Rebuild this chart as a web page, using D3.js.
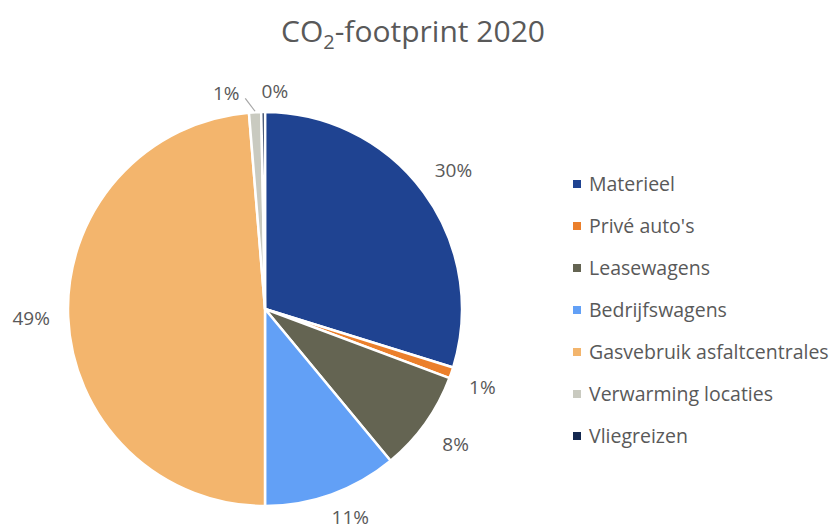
<!DOCTYPE html>
<html><head><meta charset="utf-8">
<script src="https://cdn.jsdelivr.net/npm/d3@7"></script>
<style>body{margin:0;background:#fff;} svg{display:block;}</style>
</head><body>
<svg id="chart" width="830" height="530"></svg>
<script>
const categories = ["Materieel","Privé auto's","Leasewagens","Bedrijfswagens","Gasvebruik asfaltcentrales","Verwarming locaties","Vliegreizen"];
const values = [29.8, 0.9, 8.3, 11.0, 48.7, 1.0, 0.3];
const colors = ["#1f4391","#eb7f2b","#646452","#62a0f6","#f3b56d","#c9cac0","#14284f"];
const titleMain = "CO", titleSub = "2", titleRest = "-footprint 2020";

const svg = d3.select("#chart");
const font = "'Open Sans', sans-serif";
const textColor = "#595959";
const cx = 265, cy = 309, r = 197;

// title
const t = svg.append("text").attr("x", 413).attr("y", 42).attr("text-anchor","middle")
  .attr("font-family", font).attr("font-size", 30).attr("fill", textColor);
t.append("tspan").text(titleMain);
t.append("tspan").attr("font-size", 20).attr("dy", 7).text(titleSub);
t.append("tspan").attr("dy", -7).text(titleRest);

const data = categories.map((c,i)=>({name:c, value:values[i], color:colors[i]}));
const pie = d3.pie().value(d=>d.value).sort(null);
const arcs = pie(data);
const arc = d3.arc().innerRadius(0).outerRadius(r);

const g = svg.append("g").attr("transform", `translate(${cx},${cy})`);
g.selectAll("path").data(arcs).enter().append("path")
  .attr("d", arc).attr("fill", d=>d.data.color)
  .attr("stroke", "#fff").attr("stroke-width", 2.5).attr("stroke-linejoin","round");

// labels
const labelR = 234;
const nudge = {1: {dx:-4, dy:3}, 3: {dx:6, dy:-12}, 5: {dx:-27, dy:18}, 6: {dx:12, dy:16}};
arcs.forEach((a,i)=>{
  const mid = (a.startAngle + a.endAngle)/2;
  let x = labelR*Math.sin(mid), y = -labelR*Math.cos(mid);
  if (nudge[i]) { x += nudge[i].dx; y += nudge[i].dy; }
  g.append("text").attr("x", x).attr("y", y).attr("dy","0.35em")
    .attr("text-anchor","middle").attr("font-family", font).attr("font-size", 19)
    .attr("fill", textColor).text(Math.round(a.data.value) + "%");
  if (i === 5) {
    const edge = (r+1);
    g.append("line")
      .attr("x1", x + 19).attr("y1", y + 5)
      .attr("x2", edge*Math.sin(mid)).attr("y2", -edge*Math.cos(mid))
      .attr("stroke", "#a6a6a6").attr("stroke-width", 1.2);
  }
});

// legend
const lg = svg.append("g").attr("transform","translate(573,184)");
data.forEach((d,i)=>{
  const row = lg.append("g").attr("transform", `translate(0,${i*42})`);
  row.append("rect").attr("x",0).attr("y",-4).attr("width",8).attr("height",8).attr("fill",d.color);
  row.append("text").attr("x",16).attr("y",0).attr("dy","0.35em")
    .attr("font-family", font).attr("font-size", 19.5).attr("fill", textColor).text(d.name);
});
</script>
</body></html>
